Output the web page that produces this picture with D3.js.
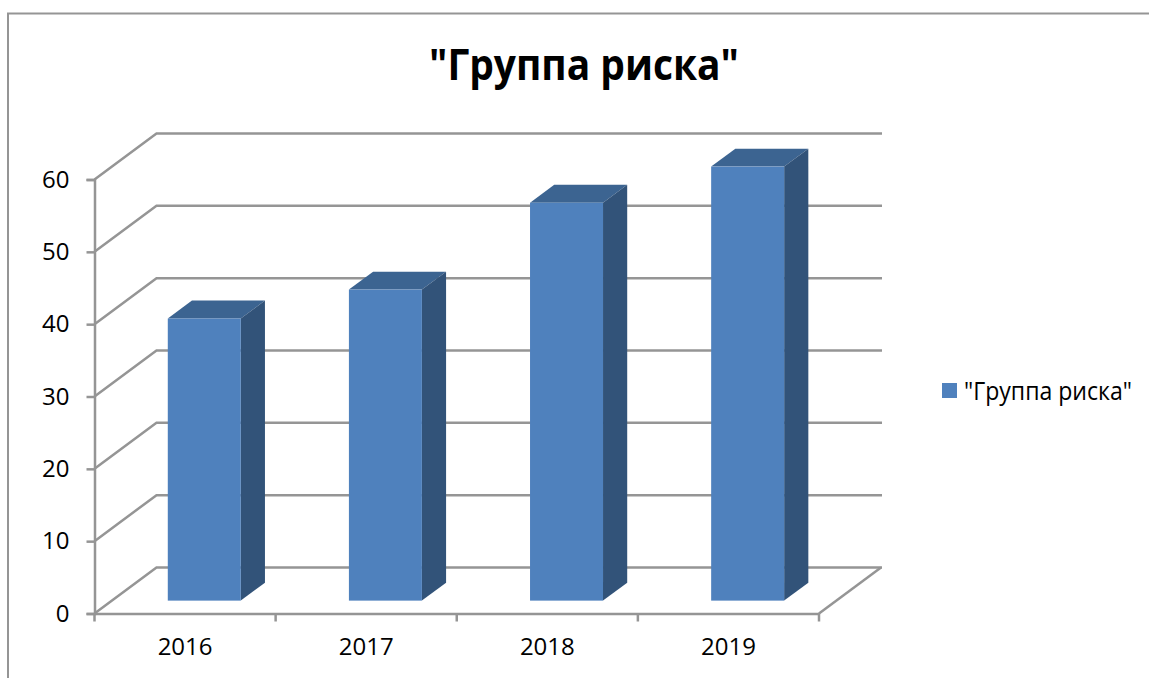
<!DOCTYPE html>
<html>
<head>
<meta charset="utf-8">
<script src="https://cdn.jsdelivr.net/npm/d3@7"></script>
<style>
html, body { margin: 0; padding: 0; background: #fff; }
text { font-family: "Open Sans", sans-serif; fill: #000; }
</style>
</head>
<body>
<div id="chart"></div>
<script>
const years = ["2016", "2017", "2018", "2019"];
const risk = [39, 43, 55, 60];
const yTicks = [0, 10, 20, 30, 40, 50, 60];
const title = '"Группа риска"';

const width = 1149;
const height = 678;
const lineColor = "#959595";

// oblique offset of the back wall from the front plane
const depth = {x: 62, y: -46};

const x = d3.scaleBand().domain(years).range([94.5, 819]).paddingInner(0.597).paddingOuter(0.2985);
const y = d3.scaleLinear().domain([0, 60]).range([613.5, 179.5]);

const svg = d3.select("#chart")
	.append("svg")
	.attr("width", width)
	.attr("height", height)
	.style("display", "block");

// outer frame, cut by the page on the right and bottom
svg.append("path")
	.attr("d", "M8,678V13.5H1149")
	.attr("fill", "none")
	.attr("stroke", lineColor)
	.attr("stroke-width", 2);

// the original face is narrower than Open Sans, so squeeze it to the same width
svg.append("text")
	.attr("x", 429)
	.attr("y", 79.5)
	.attr("textLength", 310)
	.attr("lengthAdjust", "spacingAndGlyphs")
	.style("font-size", "43px")
	.style("font-weight", 700)
	.text(title);

// grid lines: along the side wall, then along the back wall
svg.append("g")
	.selectAll("path")
	.data(yTicks)
	.enter()
	.append("path")
	.attr("d", d => "M" + x.range()[0] + "," + y(d)
		+ "L" + (x.range()[0] + depth.x) + "," + (y(d) + depth.y)
		+ "H" + (x.range()[1] + depth.x + 1))
	.attr("fill", "none")
	.attr("stroke", lineColor)
	.attr("stroke-width", 2.5);

// right edge of the floor
svg.append("line")
	.attr("x1", x.range()[1])
	.attr("y1", y(0))
	.attr("x2", x.range()[1] + depth.x)
	.attr("y2", y(0) + depth.y)
	.attr("stroke", lineColor)
	.attr("stroke-width", 2.5);

const yAxis = svg.append("g")
	.attr("transform", "translate(" + x.range()[0] + ",0)")
	.call(d3.axisLeft(y).tickValues(yTicks).tickSize(8).tickPadding(17));

const xAxis = svg.append("g")
	.attr("transform", "translate(0," + y(0) + ")")
	.call(d3.axisBottom(x).tickSize(0).tickPadding(24));

// category separators sit between the bands
xAxis.selectAll("line.sep")
	.data(d3.range(years.length + 1))
	.enter()
	.append("line")
	.attr("class", "sep")
	.attr("x1", i => x.range()[0] + i * x.step())
	.attr("x2", i => x.range()[0] + i * x.step())
	.attr("y1", 0)
	.attr("y2", 8);

[yAxis, xAxis].forEach(axis => {
	axis.selectAll("path, line")
		.attr("stroke", lineColor)
		.attr("stroke-width", 2.5);
	axis.selectAll("text")
		.style("font-size", "24px")
		.style("font-family", '"Open Sans", sans-serif')
		.attr("fill", "#000");
});

// bars sit a little way into the floor and are 39% of it deep
const offX = depth.x * 0.31;
const offY = depth.y * 0.28;
const barX = depth.x * 0.39;
const barY = depth.y * 0.39;

const bars = svg.append("g")
	.selectAll("g")
	.data(years)
	.enter()
	.append("g")
	.attr("transform", d => "translate(" + (x(d) + offX) + "," + offY + ")");

bars.append("path")
	.attr("d", (d, i) => "M0," + y(risk[i])
		+ "l" + barX + "," + barY
		+ "h" + x.bandwidth()
		+ "l" + (-barX) + "," + (-barY) + "z")
	.attr("fill", "#3c6491");

bars.append("path")
	.attr("d", (d, i) => "M" + x.bandwidth() + "," + y(risk[i])
		+ "l" + barX + "," + barY
		+ "V" + (y(0) + barY)
		+ "l" + (-barX) + "," + (-barY) + "z")
	.attr("fill", "#325379");

bars.append("rect")
	.attr("x", 0)
	.attr("y", (d, i) => y(risk[i]))
	.attr("width", x.bandwidth())
	.attr("height", (d, i) => y(0) - y(risk[i]))
	.attr("fill", "#4f81bd");

const legend = svg.append("g");

legend.append("rect")
	.attr("x", 942)
	.attr("y", 383)
	.attr("width", 15)
	.attr("height", 15)
	.attr("fill", "#4f81bd");

legend.append("text")
	.attr("x", 964)
	.attr("y", 400)
	.attr("textLength", 168)
	.attr("lengthAdjust", "spacingAndGlyphs")
	.style("font-size", "25px")
	.text(title);
</script>
</body>
</html>
